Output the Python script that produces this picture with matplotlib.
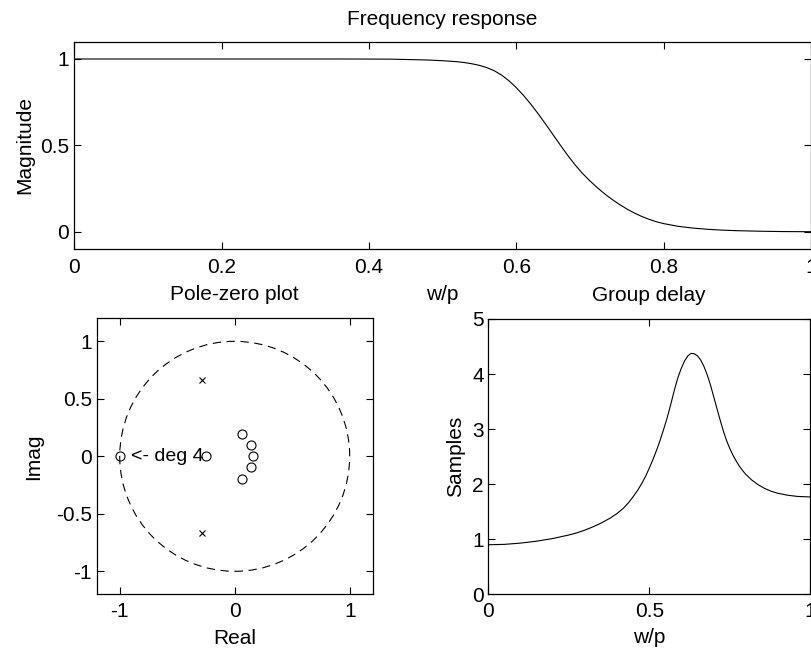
import matplotlib
matplotlib.use("Agg")
import matplotlib.pyplot as plt
from matplotlib.patches import Circle

plt.rcParams['font.family'] = ['Liberation Sans', 'DejaVu Sans']
plt.rcParams['font.size'] = 15
plt.rcParams['lines.scale_dashes'] = False

# Magnitude response (normalised frequency w/pi)
mag_w = [0.0, 0.1, 0.2, 0.3, 0.35, 0.40, 0.43, 0.45, 0.48, 0.50, 0.52, 0.53,
         0.54, 0.55, 0.56, 0.57, 0.58, 0.59, 0.60, 0.61, 0.62, 0.63, 0.64,
         0.65, 0.66, 0.67, 0.68, 0.69, 0.70, 0.71, 0.72, 0.73, 0.74, 0.75,
         0.76, 0.77, 0.78, 0.79, 0.80, 0.82, 0.84, 0.86, 0.88, 0.90, 0.93,
         0.96, 1.0]
mag = [1.0, 1.0, 1.0, 1.0, 1.0, 0.9995, 0.999, 0.997, 0.994, 0.990, 0.984,
       0.979, 0.972, 0.963, 0.950, 0.932, 0.907, 0.874, 0.834, 0.788, 0.737,
       0.681, 0.622, 0.561, 0.500, 0.441, 0.386, 0.337, 0.294, 0.255, 0.219,
       0.187, 0.158, 0.132, 0.109, 0.089, 0.072, 0.058, 0.047, 0.031, 0.021,
       0.014, 0.009, 0.006, 0.003, 0.001, 0.0]

# Group delay in samples
gd_w = [0.0, 0.05, 0.10, 0.15, 0.20, 0.25, 0.274, 0.30, 0.326, 0.35, 0.378,
        0.40, 0.419, 0.435, 0.45, 0.464, 0.477, 0.49, 0.502, 0.513, 0.523,
        0.534, 0.544, 0.555, 0.565, 0.573, 0.58, 0.59, 0.60, 0.61, 0.62, 0.63,
        0.64, 0.65, 0.66, 0.67, 0.68, 0.69, 0.70, 0.71, 0.72, 0.73, 0.74,
        0.75, 0.76, 0.77, 0.78, 0.79, 0.80, 0.82, 0.84, 0.86, 0.88, 0.90,
        0.93, 0.96, 1.0]
gd = [0.90, 0.907, 0.93, 0.965, 1.013, 1.077, 1.115, 1.166, 1.228, 1.293,
      1.382, 1.468, 1.56, 1.66, 1.773, 1.89, 2.015, 2.16, 2.317, 2.47, 2.62,
      2.80, 2.983, 3.19, 3.407, 3.59, 3.75, 3.95, 4.11, 4.24, 4.33, 4.375,
      4.37, 4.33, 4.255, 4.14, 3.99, 3.81, 3.60, 3.385, 3.175, 2.975, 2.80,
      2.655, 2.53, 2.425, 2.33, 2.25, 2.18, 2.07, 1.985, 1.92, 1.87, 1.835,
      1.80, 1.778, 1.768]

# Zeros and poles of the filter
zeros_re = [-1.0, -0.25, 0.061, 0.142, 0.162, 0.142, 0.061]
zeros_im = [0.0, 0.0, 0.198, 0.096, 0.0, -0.096, -0.198]
poles_re = [-0.283, -0.283]
poles_im = [0.664, -0.664]
multi_zero_label = "<- deg 4"

fig = plt.figure(figsize=(8.12, 6.49), dpi=100)
W, H = 812.0, 649.0


def axes_px(left, top, right, bottom):
    return fig.add_axes([left / W, 1 - bottom / H, (right - left) / W, (bottom - top) / H])


def style(ax, ypad=3.5, xpad=5.5):
    for s in ax.spines.values():
        s.set_linewidth(0.9)
    ax.tick_params(direction='in', length=5, width=0.8, top=True, right=True,
                   labelsize=15)
    ax.tick_params(axis='y', pad=ypad)
    ax.tick_params(axis='x', pad=xpad)


def fmt(v):
    return ('%g' % v)


# Frequency response
ax1 = axes_px(74.2, 41.7, 811.0, 249.0)
ax1.plot(mag_w, mag, color='black', lw=0.8)
ax1.set_xlim(0, 1)
ax1.set_ylim(-0.1, 1.1)
xt = [0, 0.2, 0.4, 0.6, 0.8, 1]
ax1.set_xticks(xt)
ax1.set_xticklabels([fmt(v) for v in xt])
yt = [0, 0.5, 1]
ax1.set_yticks(yt)
ax1.set_yticklabels([fmt(v) for v in yt])
style(ax1, xpad=6.5)
ax1.set_title('Frequency response', pad=12, fontsize=15)
ax1.set_xlabel('w/p', va='top')
ax1.xaxis.set_label_coords(0.5, -0.174)
ax1.set_ylabel('Magnitude', va='center')
ax1.yaxis.set_label_coords(-0.067, 0.5)

# Pole-zero plot
ax2 = axes_px(96.7, 318.3, 372.7, 594.3)
ax2.add_patch(Circle((0, 0), 1.0, fill=False, ec='black', lw=0.8,
                     linestyle=(0, (6, 4))))
ax2.plot(zeros_re, zeros_im, linestyle='none', marker='o', ms=6.5,
         mfc='none', mec='black', mew=0.8)
ax2.plot(poles_re, poles_im, linestyle='none', marker='x', ms=4.5,
         color='black', mew=0.8)
ax2.text(zeros_re[0] + 0.1, zeros_im[0], multi_zero_label, ha='left',
         va='center', fontsize=14)
ax2.set_xlim(-1.2, 1.2)
ax2.set_ylim(-1.2, 1.2)
ax2.set_xticks([-1, 0, 1])
ax2.set_xticklabels(['-1', '0', '1'])
yt2 = [-1, -0.5, 0, 0.5, 1]
ax2.set_yticks(yt2)
ax2.set_yticklabels([fmt(v) for v in yt2])
style(ax2)
ax2.set_title('Pole-zero plot', pad=13, fontsize=15)
ax2.set_xlabel('Real', va='top')
ax2.xaxis.set_label_coords(0.5, -0.127)
ax2.set_ylabel('Imag', va='center')
ax2.yaxis.set_label_coords(-0.227, 0.5)

# Group delay
ax3 = axes_px(488.5, 319.0, 810.0, 594.3)
ax3.plot(gd_w, gd, color='black', lw=0.8)
ax3.set_xlim(0, 1)
ax3.set_ylim(0, 5)
ax3.set_xticks([0, 0.5, 1])
ax3.set_xticklabels(['0', '0.5', '1'])
ax3.set_yticks([0, 1, 2, 3, 4, 5])
style(ax3)
ax3.set_title('Group delay', pad=13, fontsize=15)
ax3.set_xlabel('w/p', va='top')
ax3.xaxis.set_label_coords(0.5, -0.122)
ax3.set_ylabel('Samples', va='center')
ax3.yaxis.set_label_coords(-0.101, 0.5)

fig.savefig('out.png', dpi=100)
